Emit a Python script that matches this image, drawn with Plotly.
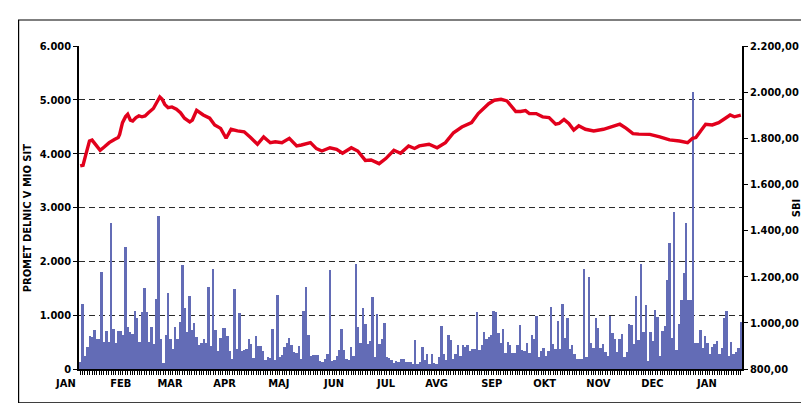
import plotly.graph_objects as go

# Daily share turnover (mio SIT), left to right
promet = [
    135, 1215, 240, 400, 610, 590, 720, 560, 550, 1800,
    510, 700, 510, 2710, 740, 485, 700, 700, 640, 2270,
    780, 680, 655, 1070, 955, 510, 1055, 1500, 1050, 510,
    780, 465, 1305, 2850, 550, 115, 640, 1420, 550, 370,
    780, 550, 880, 1940, 1135, 680, 1355, 720, 860, 590,
    445, 485, 555, 490, 1530, 430, 1850, 720, 340, 575,
    765, 765, 610, 340, 180, 1485, 370, 1040, 340, 355,
    380, 550, 465, 210, 610, 420, 420, 340, 160, 225,
    210, 750, 165, 1375, 230, 255, 400, 480, 575, 445,
    310, 290, 420, 180, 1070, 1530, 640,
    250, 264, 264, 264, 145, 125, 195, 283, 1830, 157,
    176, 250, 345, 750, 345, 195, 176, 415, 250, 1950,
    780, 490, 1125, 835, 470, 520, 1335, 220, 1030, 470,
    566, 860, 220, 207, 176, 107, 157, 132, 195, 195,
    132, 132, 132,
    95, 540, 95, 132, 415, 176, 283, 95, 283, 107,
    95, 220, 800, 270, 176, 635, 540, 195, 270, 440,
    240, 440, 415, 440, 333, 365, 365, 1050, 352, 447,
    690, 566, 600, 635, 1070, 1050, 665, 490, 740, 300,
    510, 440, 300, 290, 440, 820, 345, 333,
    478, 290, 630, 566, 990, 220, 333, 396, 250, 333,
    1150, 470, 365, 900, 365, 1210, 585, 955, 365, 440,
    283, 195, 195, 195, 1860, 220, 1700, 490, 396, 945,
    755, 396, 460, 320, 240, 990, 665, 566, 320, 566,
    650, 220, 320, 835, 820, 470, 1350,
    540, 1950, 690, 1180, 157, 690, 520, 1090, 975, 250,
    710, 790, 1655, 2345, 570, 2910, 345, 835, 1290, 1780,
    2705, 1290, 1290, 5150, 490, 490, 730, 396, 604, 490,
    270, 415, 470, 520, 283, 396, 950, 1070, 250, 500,
    270, 315, 396, 870,
]

# SBI index: trading-day position and value
sbi_day = [
    0, 1.2, 2.2, 3.9, 5.0, 6.7, 8.4, 10.1, 12.2, 14.4,
    16.0, 16.6, 17.8, 19.1, 20.0, 21.1, 22.1, 23.5, 24.7, 26.0,
    27.3, 28.7, 30.8, 32.2, 33.5, 34.5, 35.6, 37.0, 38.6, 40.5,
    42.2, 43.9, 46.1, 47.2, 49.0, 51.8, 54.5, 56.6, 59.1, 61.4,
    63.5, 66.2, 69.0, 71.7, 74.6, 77.2, 80.0, 82.1, 84.9, 88.0,
    91.1, 93.1, 96.9, 99.4, 101.7, 105.1, 107.9, 110.4, 114.1, 116.8,
    120.0, 122.4, 125.8, 128.6, 132.0, 134.8, 138.2, 140.7, 142.7, 146.8,
    150.2, 153.7, 157.1, 160.6, 162.6, 164.7, 167.5, 169.5, 171.9, 174.3,
    177.1, 179.6, 181.2, 183.3, 185.3, 187.4, 189.0, 191.9, 194.6, 197.3,
    200.1, 201.5, 203.6, 205.6, 207.7, 209.8, 212.6, 216.1, 220.2, 223.6,
    227.1, 229.8, 232.6, 235.1, 239.7, 243.9, 248.0, 252.2, 255.6, 257.7,
    259.1, 261.1, 263.2, 266.0, 268.7, 271.5, 273.5, 275.3, 277.0, 278.0,
]
sbi = [
    1680, 1683, 1723, 1788, 1792, 1771, 1748, 1762, 1781, 1795,
    1803, 1817, 1868, 1894, 1904, 1879, 1875, 1890, 1897, 1893,
    1897, 1911, 1929, 1955, 1979, 1969, 1947, 1933, 1936, 1926,
    1911, 1887, 1871, 1879, 1921, 1901, 1887, 1858, 1843, 1800,
    1839, 1832, 1828, 1803, 1774, 1806, 1781, 1785, 1781, 1800,
    1767, 1771, 1781, 1755, 1745, 1759, 1752, 1735, 1759, 1745,
    1704, 1706, 1690, 1712, 1748, 1735, 1767, 1756, 1767, 1774,
    1759, 1781, 1824, 1849, 1858, 1868, 1907, 1926, 1950, 1965,
    1969, 1962, 1940, 1916, 1916, 1920, 1907, 1907, 1893, 1890,
    1861, 1864, 1882, 1864, 1836, 1854, 1839, 1832, 1839, 1849,
    1861, 1843, 1820, 1818, 1817, 1806, 1793, 1788, 1781, 1800,
    1803, 1832, 1861, 1858, 1868, 1887, 1901, 1893, 1897, 1900,
]

months = ["JAN", "FEB", "MAR", "APR", "MAJ", "JUN", "JUL",
          "AVG", "SEP", "OKT", "NOV", "DEC", "JAN"]
month_day = [-6, 17, 38, 61, 83.5, 106.5, 128.5, 150, 173.5, 195.5, 218, 241, 263.5]

left_ticks = [0, 1000, 2000, 3000, 4000, 5000, 6000]
right_ticks = [800, 1000, 1200, 1400, 1600, 1800, 2000, 2200]

FONT = "DejaVu Sans, sans-serif"


def fnt(size):
    return dict(family=FONT, size=size, color="black", weight="bold")


days = list(range(len(promet)))
x0, x1 = -0.5, len(promet) - 0.5

fig = go.Figure()
fig.add_trace(go.Bar(
    x=days, y=promet, yaxis="y",
    marker=dict(color="#636cb6", line=dict(width=0)),
    hoverinfo="skip",
))
fig.add_trace(go.Scatter(
    x=sbi_day, y=sbi, yaxis="y2", mode="lines",
    line=dict(color="#e2001c", width=3.4),
    hoverinfo="skip",
))

annotations = []
for m, d in zip(months, month_day):
    annotations.append(dict(
        text=m, xref="paper", yref="paper",
        x=(d - x0) / (x1 - x0), y=-0.045,
        xanchor="center", yanchor="middle", showarrow=False,
        font=fnt(11),
    ))
annotations.append(dict(
    text="PROMET DELNIC V MIO SIT", xref="paper", yref="paper",
    x=-0.078, y=0.467, textangle=-90, showarrow=False,
    xanchor="center", yanchor="middle",
    font=fnt(11),
))
annotations.append(dict(
    text="SBI", xref="paper", yref="paper",
    x=1.0815, y=0.498, textangle=-90, showarrow=False,
    xanchor="center", yanchor="middle",
    font=fnt(11),
))

fig.update_layout(
    width=809, height=403,
    margin=dict(l=71, r=63, t=38, b=42),
    paper_bgcolor="white", plot_bgcolor="white",
    bargap=0, showlegend=False, separators=",.",
    font=fnt(11),
    annotations=annotations,
    shapes=[dict(
        type="rect", xref="paper", yref="paper",
        x0=-0.0911, x1=1.12, y0=-0.105, y1=1.0805,
        line=dict(color="black", width=1.2), fillcolor="rgba(0,0,0,0)",
        layer="below",
    )],
    xaxis=dict(
        range=[x0, x1], tickmode="linear", tick0=0, dtick=1,
        ticks="outside", ticklen=4, tickwidth=1, tickcolor="black",
        showticklabels=False, showline=True, linecolor="black", linewidth=1.5,
        showgrid=False, zeroline=False,
    ),
    yaxis=dict(
        range=[0, 6000], tickvals=left_ticks, tickformat=",d",
        showgrid=True, gridcolor="#2a2a2a", gridwidth=1, griddash="6px,4px",
        showline=True, linecolor="black", linewidth=1.5,
        ticks="outside", ticklen=4, tickcolor="black",
        zeroline=False, tickfont=fnt(11),
    ),
    yaxis2=dict(
        range=[800, 2200], tickvals=right_ticks, tickformat=",.2f",
        overlaying="y", side="right",
        showgrid=False, zeroline=False,
        showline=True, linecolor="black", linewidth=1.5,
        ticks="outside", ticklen=4, tickcolor="black",
        tickfont=fnt(11),
    ),
)

# condensed typeface, as in the original (set via CSS after drawing)
condense = (
    "var s=document.createElement('style');"
    "s.textContent='svg text{font-stretch:condensed !important;}';"
    "document.head.appendChild(s);"
)
fig.write_html("out.html", post_script=condense)
